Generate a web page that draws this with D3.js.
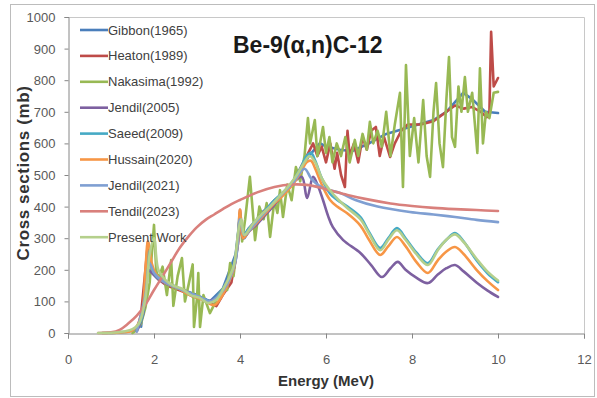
<!DOCTYPE html>
<html>
<head>
<meta charset="utf-8">
<script src="https://cdn.jsdelivr.net/npm/d3@7"></script>
<style>
  html, body { margin: 0; padding: 0; background: #fff; }
  svg text { font-family: "Liberation Sans", Arial, sans-serif; }
</style>
</head>
<body>
<svg id="chart" width="597" height="398"></svg>
<script>
// Series data, [energy MeV, cross section mb].
const gibbon1965 = [[1.7,20],[1.85,250],[2.0,190],[2.3,160],[2.6,140],[3.0,120],[3.3,100],[3.6,140],[3.9,250],[4.0,370],[4.1,300],[4.5,380],[5.0,440],[5.3,490],[5.6,560],[5.86,601],[6.0,590],[6.33,580],[6.6,575],[7.0,600],[7.4,630],[7.95,652],[8.5,674],[8.8,700],[9.19,760],[9.4,740],[9.7,700],[10.0,696]];
const heaton1989 = [[1.6,10],[1.7,60],[1.8,200],[1.86,288],[1.95,200],[2.1,170],[2.3,150],[2.5,140],[2.7,130],[2.9,115],[3.1,110],[3.3,95],[3.45,85],[3.6,120],[3.8,160],[3.95,280],[4.0,390],[4.07,300],[4.2,330],[4.4,360],[4.6,390],[4.8,420],[5.0,440],[5.2,470],[5.4,520],[5.55,560],[5.7,600],[5.8,560],[5.9,590],[6.0,540],[6.1,600],[6.2,520],[6.26,570],[6.35,500],[6.44,462],[6.5,640],[6.55,560],[6.65,600],[6.75,540],[6.85,620],[6.95,580],[7.05,640],[7.16,652],[7.25,560],[7.35,620],[7.49,557],[7.6,600],[7.75,640],[7.9,660],[8.2,660],[8.5,670],[8.8,700],[9.0,720],[9.2,710],[9.4,715],[9.6,700],[9.74,683],[9.8,700],[9.84,953],[9.9,780],[10.0,807]];
const nakasima1992 = [[1.5,0],[1.6,10],[1.7,30],[1.8,80],[1.9,160],[2.0,342],[2.05,200],[2.1,170],[2.2,210],[2.3,120],[2.4,231],[2.45,86],[2.55,180],[2.65,237],[2.72,100],[2.8,150],[2.9,217],[2.93,19],[3.0,110],[3.03,190],[3.07,19],[3.15,120],[3.3,63],[3.4,90],[3.5,120],[3.6,140],[3.7,136],[3.77,221],[3.85,180],[3.95,300],[4.0,380],[4.05,290],[4.12,360],[4.23,494],[4.3,380],[4.35,294],[4.45,400],[4.55,360],[4.62,411],[4.7,304],[4.8,420],[4.87,380],[4.93,452],[5.0,367],[5.1,470],[5.2,420],[5.3,525],[5.4,480],[5.5,560],[5.58,680],[5.63,600],[5.74,674],[5.8,560],[5.86,600],[5.93,652],[6.0,570],[6.08,620],[6.15,540],[6.25,600],[6.35,560],[6.45,620],[6.55,540],[6.67,611],[6.75,560],[6.85,630],[6.95,580],[7.02,668],[7.1,600],[7.2,640],[7.3,590],[7.4,700],[7.5,560],[7.6,660],[7.72,760],[7.79,462],[7.86,848],[7.95,560],[8.05,680],[8.15,540],[8.26,737],[8.34,560],[8.42,494],[8.5,700],[8.56,791],[8.64,600],[8.72,525],[8.8,740],[8.86,873],[8.93,620],[9.0,589],[9.08,780],[9.15,700],[9.23,810],[9.3,700],[9.4,760],[9.52,570],[9.58,838],[9.65,600],[9.72,700],[9.8,680],[9.9,760],[10.0,763]];
const jendil2005 = [[1.6,5],[1.75,60],[1.85,200],[1.95,190],[2.1,170],[2.3,155],[2.5,145],[2.7,135],[2.9,120],[3.1,110],[3.3,102],[3.5,115],[3.7,150],[3.85,200],[3.95,280],[4.0,350],[4.07,300],[4.2,320],[4.4,345],[4.6,375],[4.8,405],[5.0,440],[5.15,460],[5.3,484],[5.44,494],[5.56,427],[5.7,494],[5.8,470],[5.93,421],[6.05,370],[6.16,335],[6.4,294],[6.8,253],[7.05,215],[7.3,177],[7.5,205],[7.67,225],[7.85,200],[8.1,175],[8.37,158],[8.6,185],[8.8,205],[9.0,215],[9.2,195],[9.5,160],[9.75,135],[10.0,114]];
const saeed2009 = [[0.8,0],[1.2,2],[1.5,8],[1.7,40],[1.8,150],[1.86,260],[1.95,210],[2.05,180],[2.2,165],[2.4,150],[2.6,140],[2.8,125],[3.0,115],[3.2,105],[3.35,100],[3.5,120],[3.7,160],[3.85,210],[3.95,300],[4.0,380],[4.07,310],[4.2,330],[4.4,360],[4.6,390],[4.8,420],[5.0,445],[5.2,475],[5.4,520],[5.55,560],[5.65,570],[5.75,545],[5.9,490],[6.1,440],[6.26,421],[6.5,400],[6.8,367],[7.0,320],[7.26,269],[7.45,300],[7.65,332],[7.85,300],[8.1,255],[8.37,221],[8.6,265],[8.8,295],[9.0,316],[9.2,290],[9.5,230],[9.75,190],[10.0,161]];
const hussain2020 = [[0.8,0],[1.2,2],[1.5,8],[1.7,50],[1.8,200],[1.86,290],[1.95,220],[2.05,185],[2.2,165],[2.4,150],[2.6,138],[2.8,122],[3.0,112],[3.2,100],[3.4,88],[3.55,110],[3.7,150],[3.85,200],[3.95,290],[4.0,390],[4.07,300],[4.2,320],[4.4,350],[4.6,380],[4.8,410],[5.0,435],[5.2,465],[5.4,505],[5.55,540],[5.65,545],[5.75,520],[5.9,470],[6.1,420],[6.26,400],[6.5,378],[6.8,340],[7.0,295],[7.26,247],[7.45,275],[7.65,304],[7.85,275],[8.1,225],[8.37,190],[8.6,230],[8.8,258],[9.0,272],[9.2,250],[9.5,200],[9.75,165],[10.0,136]];
const jendil2021 = [[1.6,5],[1.8,120],[1.9,220],[2.0,190],[2.2,165],[2.5,145],[2.8,128],[3.1,112],[3.3,100],[3.5,118],[3.7,155],[3.9,230],[4.0,360],[4.1,310],[4.4,355],[4.8,415],[5.2,470],[5.5,520],[5.65,490],[5.8,470],[6.0,455],[6.33,443],[6.7,420],[7.2,400],[7.95,383],[8.5,375],[9.0,367],[9.5,358],[10.0,351]];
const tendil2023 = [[0.7,0],[1.0,2],[1.2,10],[1.4,30],[1.6,55],[1.8,90],[2.0,136],[2.2,180],[2.4,225],[2.6,270],[2.8,305],[3.0,335],[3.2,358],[3.4,375],[3.6,392],[3.8,408],[4.0,421],[4.4,445],[4.8,462],[5.2,470],[5.6,468],[6.0,455],[6.5,437],[7.0,422],[7.5,410],[8.0,402],[8.5,396],[9.0,392],[9.5,389],[10.0,386]];
const presentWork = [[0.7,0],[1.0,1],[1.3,5],[1.5,12],[1.65,30],[1.8,110],[1.9,250],[2.0,300],[2.1,200],[2.25,170],[2.45,150],[2.65,140],[2.85,120],[3.05,112],[3.25,95],[3.45,105],[3.65,150],[3.85,210],[3.97,330],[4.03,360],[4.1,310],[4.3,345],[4.5,375],[4.7,400],[4.9,430],[5.1,460],[5.3,495],[5.5,540],[5.62,560],[5.75,540],[5.9,490],[6.1,450],[6.3,420],[6.5,395],[6.8,360],[7.0,315],[7.26,262],[7.45,295],[7.65,325],[7.85,295],[8.1,250],[8.37,215],[8.6,262],[8.8,295],[9.0,312],[9.2,288],[9.5,235],[9.75,195],[10.0,166]];

const seriesNames = ["Gibbon(1965)", "Heaton(1989)", "Nakasima(1992)", "Jendil(2005)", "Saeed(2009)", "Hussain(2020)", "Jendil(2021)", "Tendil(2023)", "Present Work"];
const seriesValues = [gibbon1965, heaton1989, nakasima1992, jendil2005, saeed2009, hussain2020, jendil2021, tendil2023, presentWork];
const seriesColors = ["#4a7ebb", "#be4b48", "#98b954", "#7d60a0", "#46aac5", "#f79646", "#7f9fd2", "#d9807c", "#b5d08c"];
const seriesSmooth = [false, false, false, true, true, true, true, true, true];

const xTicks = [0, 2, 4, 6, 8, 10, 12];
const yTicks = [0, 100, 200, 300, 400, 500, 600, 700, 800, 900, 1000];

const svg = d3.select("#chart");
const width = +svg.attr("width");
const height = +svg.attr("height");

// outer chart frame
svg.append("rect")
    .attr("x", 10.5).attr("y", 4.5)
    .attr("width", 584).attr("height", 392)
    .attr("fill", "none").attr("stroke", "#bcbcbc");

const margin = { top: 17, right: 13, bottom: 65, left: 68 };
const x = d3.scaleLinear().domain([0, 12]).range([margin.left, width - margin.right]);
const y = d3.scaleLinear().domain([0, 1000]).range([height - margin.bottom, margin.top]);

// plot area frame (top and right sides)
svg.append("path")
    .attr("d", `M${x(0)},${y(1000) + 0.5}H${x(12) + 0.5}V${y(0)}`)
    .attr("fill", "none").attr("stroke", "#c8c8c8");

// Axes
const xAxis = svg.append("g")
    .attr("transform", `translate(0,${y(0) + 0.5})`)
    .call(d3.axisBottom(x).tickValues(xTicks).tickSize(5).tickPadding(16));
const yAxis = svg.append("g")
    .attr("transform", `translate(${x(0) + 0.5},0)`)
    .call(d3.axisLeft(y).tickValues(yTicks).tickFormat(d3.format("d")).tickSize(4).tickPadding(9));

[xAxis, yAxis].forEach(g => {
    g.select(".domain").attr("stroke", "#868686");
    g.selectAll(".tick line").attr("stroke", "#868686");
    g.selectAll(".tick text")
        .attr("fill", "#595959")
        .style("font-size", "13px")
        .style("font-family", "\"Liberation Sans\", Arial, sans-serif");
});
yAxis.selectAll(".tick text").attr("dy", "0.34em");

// Lines
const lineLinear = d3.line().x(d => x(d[0])).y(d => y(d[1]));
const lineSmooth = d3.line().x(d => x(d[0])).y(d => y(d[1])).curve(d3.curveCatmullRom.alpha(0.5));

svg.append("g").selectAll("path")
    .data(seriesValues)
    .join("path")
    .attr("d", (d, i) => seriesSmooth[i] ? lineSmooth(d) : lineLinear(d))
    .attr("fill", "none")
    .attr("stroke", (d, i) => seriesColors[i])
    .attr("stroke-width", 2.6)
    .attr("stroke-linejoin", "round")
    .attr("stroke-linecap", "round");

// Legend
const legend = svg.append("g");
const legendItems = legend.selectAll("g")
    .data(seriesNames)
    .join("g")
    .attr("transform", (d, i) => `translate(80,${30 + i * 25.9})`);
legendItems.append("line")
    .attr("x1", 0).attr("x2", 28)
    .attr("stroke", (d, i) => seriesColors[i])
    .attr("stroke-width", 2.6);
legendItems.append("text")
    .attr("x", 28)
    .attr("dy", "0.35em")
    .attr("fill", "#404040")
    .style("font-size", "13px")
    .text(d => d);

// Title
svg.append("text")
    .attr("x", 233).attr("y", 53)
    .attr("fill", "#1a1a1a")
    .style("font-size", "23px")
    .style("font-weight", "bold")
    .text("Be-9(α,n)C-12");

// Axis titles
svg.append("text")
    .attr("x", 326).attr("y", 386)
    .attr("text-anchor", "middle")
    .attr("fill", "#333")
    .style("font-size", "15px")
    .style("font-weight", "bold")
    .text("Energy (MeV)");

svg.append("text")
    .attr("transform", `translate(29,${(y(0) + y(1000)) / 2 - 2}) rotate(-90)`)
    .attr("text-anchor", "middle")
    .attr("fill", "#333")
    .style("font-size", "17px")
    .style("font-weight", "bold")
    .style("letter-spacing", "0.6px")
    .text("Cross sections (mb)");
</script>
</body>
</html>
